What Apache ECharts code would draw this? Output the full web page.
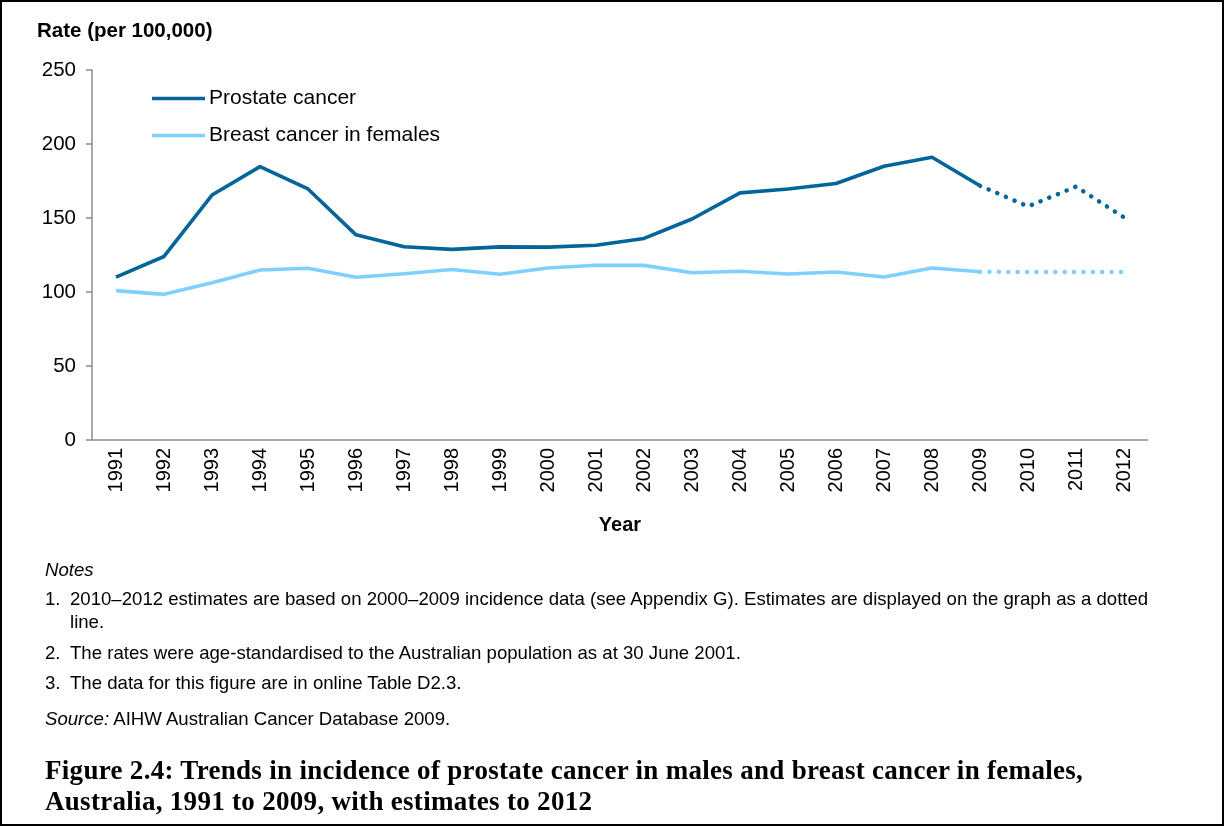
<!DOCTYPE html>
<html>
<head>
<meta charset="utf-8">
<title>Figure 2.4</title>
<script src="https://cdn.jsdelivr.net/npm/echarts@6/dist/echarts.min.js"></script>
<style>
html, body { margin:0; padding:0; background:#fff; }
#frame { position:relative; width:1224px; height:826px; box-sizing:border-box; border:2px solid #000; overflow:hidden; font-family:"Liberation Sans", Arial, sans-serif; color:#000; }
#main { position:absolute; left:-2px; top:-2px; width:1224px; height:826px; }
.note { position:absolute; font-size:18.6px; line-height:23px; }
.num { position:absolute; left:43px; }
.txt { position:absolute; left:68px; width:1140px; }
.cap { position:absolute; left:43px; font-family:"Liberation Serif", "Times New Roman", serif; font-weight:bold; font-size:27px; letter-spacing:0.3px; line-height:31px; }
</style>
</head>
<body>
<div id="frame">
	<div id="main"></div>
	<div class="note" style="left:43px;top:556px;"><i>Notes</i></div>
	<div class="note" style="top:585px;width:1224px;"><span class="num">1.</span><span class="txt">2010–2012 estimates are based on 2000–2009 incidence data (see Appendix G). Estimates are displayed on the graph as a dotted<br>line.</span></div>
	<div class="note" style="top:639px;width:1224px;"><span class="num">2.</span><span class="txt">The rates were age-standardised to the Australian population as at 30 June 2001.</span></div>
	<div class="note" style="top:669px;width:1224px;"><span class="num">3.</span><span class="txt">The data for this figure are in online Table D2.3.</span></div>
	<div class="note" style="left:43px;top:705px;"><i>Source:</i> AIHW Australian Cancer Database 2009.</div>
	<div class="cap" style="top:753px;">Figure 2.4: Trends in incidence of prostate cancer in males and breast cancer in females,<br>Australia, 1991 to 2009, with estimates to 2012</div>
</div>
<script>
var years = ['1991','1992','1993','1994','1995','1996','1997','1998','1999','2000','2001',
	'2002','2003','2004','2005','2006','2007','2008','2009','2010','2011','2012'];

// 1991-2009 observed
var prostate = [110, 124, 165.5, 184.7, 169.6, 138.6, 130.6, 128.8, 130.5, 130.3, 131.6,
	136.2, 149.3, 167, 169.6, 173.3, 185, 191, 171.8];
var breast = [100.9, 98.4, 106.2, 114.9, 116, 110, 112.3, 115.2, 112, 116.2, 118.1,
	118, 113, 114, 112.2, 113.5, 110.1, 116.2, 113.7];

// 2009-2012 estimates (dotted)
var prostateEst = [171.8, 157.8, 171.2, 150.4];
var breastEst = [113.7, 113.5, 113.5, 113.5];

var yTicks = [0, 50, 100, 150, 200, 250];

var prostateColor = '#006699';
var breastColor = '#80d0ff';

function padEst(est){
	var arr = [];
	for (var i = 0; i < years.length - est.length; i++) arr.push(null);
	return arr.concat(est);
}

var myChart = echarts.init(document.getElementById('main'));
var option = {
	backgroundColor: 'transparent',
	animation: false,
	textStyle: { fontFamily: 'Liberation Sans, Arial, sans-serif' },
	grid: { left: 92, right: 76, top: 70, bottom: 386 },
	graphic: [
		{ type: 'text', left: 37, top: 21, style: { text: 'Rate (per 100,000)', fontSize: 20.5, fontWeight: 'bold', fill: '#000', fontFamily: 'Liberation Sans, Arial, sans-serif' } }
	],
	legend: {
		data: ['Prostate cancer', 'Breast cancer in females'],
		orient: 'vertical',
		left: 152,
		top: 88,
		padding: 0,
		icon: 'rect',
		itemWidth: 53,
		itemHeight: 3.5,
		itemGap: 16,
		textStyle: { fontSize: 21, color: '#000', padding: [0, 0, 0, -1] }
	},
	xAxis: {
		type: 'category',
		data: years,
		boundaryGap: true,
		name: 'Year',
		nameLocation: 'middle',
		nameGap: 75,
		nameTextStyle: { fontSize: 20, fontWeight: 'bold', color: '#000' },
		axisLine: { lineStyle: { color: '#8c8c8c', width: 1.5 } },
		axisTick: { alignWithLabel: true, length: 6, lineStyle: { color: '#8c8c8c', width: 1.5 } },
		axisLabel: { rotate: 90, fontSize: 20, color: '#000', margin: 8, interval: 0 }
	},
	yAxis: {
		type: 'value',
		min: 0,
		max: 250,
		interval: 50,
		axisLine: { show: true, lineStyle: { color: '#8c8c8c', width: 1.5 } },
		axisTick: { show: true, length: 6, lineStyle: { color: '#8c8c8c', width: 1.5 } },
		splitLine: { show: false },
		axisLabel: {
			fontSize: 20.5, color: '#000', margin: 16,
			formatter: function(v){ return yTicks.indexOf(v) >= 0 ? String(v) : ''; }
		}
	},
	series: [
		{
			name: 'Prostate cancer',
			type: 'line',
			data: prostate,
			symbol: 'none',
			color: prostateColor,
			lineStyle: { width: 3.6, color: prostateColor }
		},
		{
			name: 'Breast cancer in females',
			type: 'line',
			data: breast,
			symbol: 'none',
			color: breastColor,
			lineStyle: { width: 3.6, color: breastColor }
		},
		{
			name: 'Prostate estimate',
			type: 'line',
			data: padEst(prostateEst),
			symbol: 'none',
			lineStyle: { width: 4.5, color: prostateColor, type: [0.1, 9.3], cap: 'round' }
		},
		{
			name: 'Breast estimate',
			type: 'line',
			data: padEst(breastEst),
			symbol: 'none',
			lineStyle: { width: 4.5, color: breastColor, type: [0.1, 9.3], cap: 'round' }
		}
	]
};
myChart.setOption(option);
</script>
</body>
</html>
